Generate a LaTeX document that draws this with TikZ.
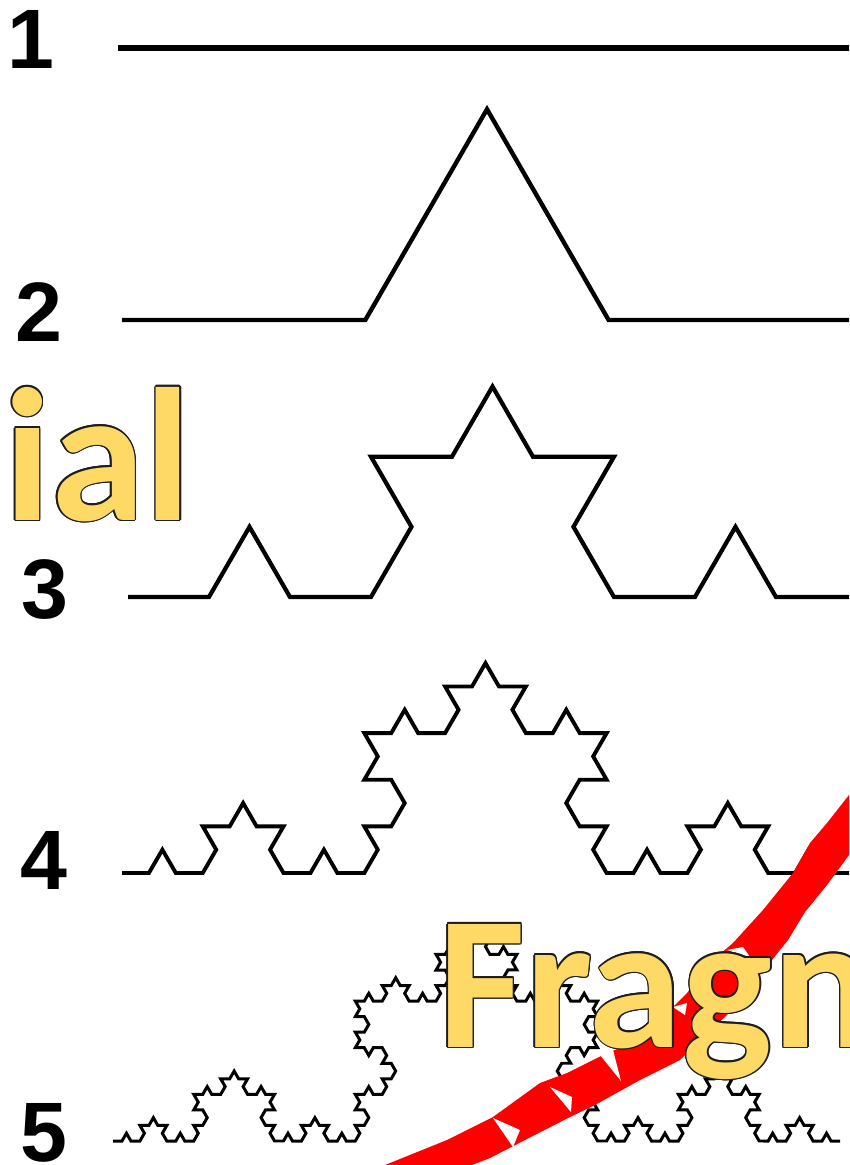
\documentclass[tikz,border=0pt]{standalone}
\usepackage{fontspec}
\setmainfont{Liberation Sans}
\newfontfamily\calfont{Carlito}
\usetikzlibrary{calc,decorations.fractals}
\definecolor{wordgold}{RGB}{255,217,102}
\definecolor{wordedge}{RGB}{30,30,30}
\definecolor{brushred}{RGB}{255,0,0}
\tikzset{
  koch/.style={decoration=Koch snowflake,line join=miter,black},
  stagenum/.style={font=\fontsize{48}{48}\selectfont\bfseries,inner sep=0pt},
  word/.style={font=\calfont\bfseries\fontsize{108}{108}\selectfont,anchor=base west,inner sep=0pt},
  gap/.style={fill=white,draw=none}
}
\begin{document}
\begin{tikzpicture}[x=0.02cm,y=-0.02cm]
  \useasboundingbox (0,0) rectangle (849,1165);
  \clip (0,0) rectangle (849,1165);
  % the five stages of the curve
  \draw[koch,line width=3.1pt] (118,48) -- (870,48);
  \draw[koch,line width=2.5pt] decorate{ (122,320) -- (852,320) };
  \draw[koch,line width=2.4pt] decorate{ decorate{ (128,597) -- (857,597) } };
  \draw[koch,line width=2.2pt] decorate{ decorate{ decorate{ (122,873) -- (849,873) } } };
  \draw[koch,line width=1.7pt] decorate{ decorate{ decorate{ decorate{ (113,1141) -- (840,1141) } } } };
  % brush stroke
  \fill[brushred] (385,1165) -- (390,1163) -- (447,1140) -- (493,1117) -- (540,1083)
    -- (567,1073) -- (607,1053) -- (633,1043) -- (667,1013) -- (687,993) -- (713,960)
    -- (733,943) -- (763,910) -- (793,873) -- (810,843) -- (827,823) -- (849,795)
    -- (849,855) -- (827,885) -- (805,912) -- (788,940) -- (772,960) -- (730,1012)
    -- (680,1060) -- (640,1080) -- (595,1105) -- (570,1117) -- (525,1140) -- (490,1158)
    -- (472,1165) -- cycle;
  \foreach \xa/\ya/\xb/\yb/\xc/\yc in {493/1118/520/1130/513/1147,550/1087/572/1097/571/1112,
                                       600/1055/613/1050/621/1081,673/1007/687/1003/685/1015,
                                       727/950/743/947/750/957}
    \fill[gap] (\xa,\ya) -- (\xb,\yb) -- (\xc,\yc) -- cycle;
  % words, edge first
  \foreach \ang in {0,30,...,330} {
    \node[word,text=wordedge,shift={(\ang:1.5)}] at (4,520) {ial};
    \node[word,text=wordedge,shift={(\ang:1.5)}] at (438,1047) {Fragn};
  }
  \node[word,text=wordgold] (ial) at (4,520) {ial};
  \node[word,text=wordgold] (fragn) at (438,1047) {Fragn};
  % stage numbers
  \node[stagenum] (n1) at (31,39) {1};
  \node[stagenum] (n2) at (39,312) {2};
  \node[stagenum] (n3) at (45,590) {3};
  \node[stagenum] (n4) at (44,860) {4};
  \node[stagenum] (n5) at (44,1133) {5};
\end{tikzpicture}
\end{document}
